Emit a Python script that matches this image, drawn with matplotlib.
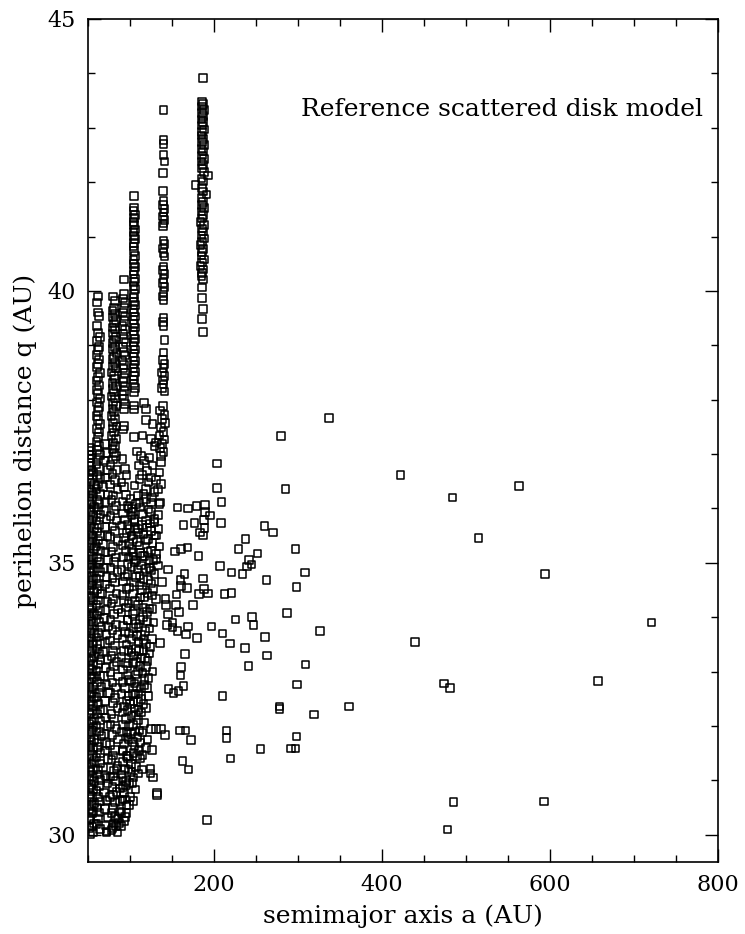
import matplotlib
matplotlib.use("Agg")
import matplotlib.pyplot as plt
from matplotlib.ticker import MultipleLocator

# dense strip at the inner edge of the disk (a ~ 50-57 AU)
band_q = [
    30.01, 30.04, 30.12, 30.15, 30.21, 30.28, 30.31, 30.39, 30.43, 30.47,
    30.55, 30.58, 30.66, 30.70, 30.74, 30.83, 30.86, 30.92, 30.99, 31.03,
    31.08, 31.16, 31.19, 31.25, 31.31, 31.36, 31.42, 31.47, 31.53, 31.60,
    31.63, 31.71, 31.74, 31.80, 31.88, 31.91, 31.97, 32.04, 32.08, 32.13,
    32.21, 32.24, 32.30, 32.37, 32.41, 32.46, 32.53, 32.58, 32.62, 32.70,
    32.73, 32.80, 32.86, 32.90, 32.96, 33.03, 33.07, 33.12, 33.20, 33.24,
    33.29, 33.36, 33.40, 33.47, 33.52, 33.57, 33.63, 33.69, 33.74, 33.79,
    33.86, 33.90, 33.97, 34.02, 34.07, 34.14, 34.18, 34.23, 34.31, 34.35,
    34.40, 34.47, 34.51, 34.58, 34.63, 34.68, 34.74, 34.81, 34.85, 34.91,
    34.97, 35.02, 35.08, 35.13, 35.19, 35.25, 35.30, 35.36, 35.41, 35.48,
    35.52, 35.59, 35.64, 35.69, 35.76, 35.80, 35.86, 35.93, 35.97, 36.03,
    36.09, 36.14, 36.20, 36.26, 36.31, 36.37, 36.43, 36.48, 36.54, 36.61,
    36.66, 36.71, 36.78, 36.84, 36.92, 36.98, 37.06, 37.12,
]
band_a = [
    53, 56, 52, 55, 57, 53, 51, 55, 56, 52,
    54, 57, 52, 55, 53, 56, 51, 54, 57, 52,
    55, 53, 56, 52, 54, 57, 51, 55, 53, 56,
    52, 54, 57, 53, 51, 55, 56, 52, 54, 57,
    53, 51, 55, 56, 52, 54, 57, 53, 55, 51,
    56, 52, 54, 57, 53, 55, 51, 56, 52, 54,
    57, 53, 55, 52, 56, 51, 54, 57, 53, 55,
    52, 56, 54, 51, 57, 53, 55, 52, 56, 54,
    51, 57, 53, 55, 52, 56, 54, 51, 57, 53,
    55, 52, 56, 54, 51, 57, 53, 55, 52, 56,
    54, 51, 57, 53, 55, 52, 56, 54, 51, 57,
    53, 55, 52, 56, 54, 51, 57, 53, 55, 52,
    56, 54, 51, 53, 52, 54, 51, 53,
]

# resonance column near a ~ 62 AU
colA_q = [
    39.90, 39.79, 39.60, 39.54, 39.35, 39.23, 39.15, 39.08, 38.97, 38.91,
    38.82, 38.74, 38.66, 38.60, 38.49, 38.42, 38.35, 38.26, 38.18, 38.11,
    38.02, 37.95, 37.86, 37.79, 37.70, 37.63, 37.55, 37.46, 37.40, 37.31,
    37.22, 37.15, 37.07, 36.98, 36.90, 36.81, 36.73, 36.62, 36.55, 36.44,
    36.36, 36.27, 36.16, 36.08, 35.97, 35.89, 35.78, 35.70, 35.58, 35.49,
    35.41, 35.30, 35.22, 35.10, 35.02, 34.91, 34.83, 34.71, 34.62, 34.52,
    34.43, 34.31, 34.22, 34.12, 34.03, 33.91, 33.82, 33.71, 33.63, 33.51,
    33.42, 33.32, 33.21, 33.13, 33.01, 32.92, 32.81, 32.72, 32.61, 32.53,
    32.41, 32.30, 32.22, 32.10, 32.01, 31.90, 31.82, 31.70, 31.61, 31.50,
    31.42, 31.31, 31.20, 31.11, 31.01, 30.90, 30.81, 30.70, 30.61, 30.50,
    30.41, 30.30, 30.20, 30.11,
]
colA_a = [
    62, 61, 62, 63, 61, 62, 64, 61, 63, 62,
    60, 63, 62, 61, 64, 62, 60, 63, 61, 62,
    64, 61, 63, 62, 60, 62, 64, 61, 63, 62,
    60, 63, 61, 64, 62, 60, 63, 61, 65, 62,
    60, 64, 61, 63, 62, 65, 60, 63, 61, 64,
    62, 60, 65, 61, 63, 62, 64, 60, 63, 61,
    65, 62, 60, 64, 61, 63, 66, 62, 60, 64,
    61, 63, 65, 62, 60, 64, 61, 66, 63, 60,
    62, 65, 61, 64, 60, 63, 66, 61, 62, 65,
    60, 64, 62, 61, 65, 63, 60, 62, 64, 61,
    63, 62, 60, 64,
]

# objects between the first two columns
fill_q = [
    37.18, 37.02, 36.88, 36.71, 36.57, 36.40, 36.26, 36.11, 35.95, 35.80,
    35.66, 35.49, 35.35, 35.19, 35.05, 34.90, 34.74, 34.60, 34.44, 34.29,
    34.13, 33.99, 33.83, 33.68, 33.53, 33.37, 33.22, 33.07, 32.92, 32.76,
    32.61, 32.46, 32.30, 32.16, 32.00, 31.85, 31.69, 31.55, 31.39, 31.24,
    31.08, 30.94, 30.78, 30.63, 30.47, 30.32, 30.17, 30.04,
]
fill_a = [
    70, 72, 69, 73, 71, 68, 74, 71, 69, 72,
    70, 73, 68, 71, 74, 69, 72, 70, 67, 73,
    71, 69, 74, 72, 70, 68, 73, 71, 69, 72,
    74, 70, 68, 71, 73, 69, 72, 70, 74, 68,
    71, 73, 69, 72, 70, 74, 71, 72,
]

# resonance column near a ~ 80 AU
colB_q = [
    39.90, 39.81, 39.69, 39.64, 39.58, 39.51, 39.47, 39.40, 39.33, 39.29,
    39.22, 39.15, 39.11, 39.04, 38.97, 38.93, 38.86, 38.79, 38.75, 38.68,
    38.61, 38.57, 38.50, 38.43, 38.38, 38.31, 38.25, 38.20, 38.13, 38.06,
    38.02, 37.95, 37.88, 37.83, 37.77, 37.70, 37.65, 37.58, 37.51, 37.47,
    37.40, 37.33, 37.28, 37.21, 37.15, 37.09, 37.02, 36.96, 36.90, 36.80,
    36.71, 36.63, 36.52, 36.44, 36.35, 36.24, 36.16, 36.05, 35.97, 35.86,
    35.78, 35.67, 35.59, 35.48, 35.40, 35.29, 35.21, 35.10, 35.02, 34.91,
    34.83, 34.72, 34.64, 34.53, 34.44, 34.34, 34.25, 34.14, 34.06, 33.95,
    33.87, 33.76, 33.67, 33.57, 33.48, 33.38, 33.29, 33.18, 33.10, 32.99,
    32.91, 32.80, 32.71, 32.61, 32.52, 32.42, 32.33, 32.22, 32.14, 32.03,
    31.95, 31.84, 31.75, 31.65, 31.56, 31.46, 31.37, 31.26, 31.18, 31.07,
    30.99, 30.88, 30.79, 30.69, 30.60, 30.49, 30.40, 30.29, 30.21, 30.12,
]
colB_a = [
    80, 82, 81, 79, 82, 80, 83, 81, 79, 82,
    80, 83, 81, 79, 82, 80, 84, 81, 79, 82,
    80, 83, 78, 81, 82, 79, 83, 80, 81, 78,
    82, 80, 83, 79, 81, 78, 82, 80, 84, 79,
    81, 78, 83, 80, 82, 79, 81, 83, 80, 77,
    84, 79, 82, 76, 85, 80, 78, 83, 81, 77,
    84, 79, 82, 76, 86, 80, 78, 83, 81, 77,
    85, 79, 82, 76, 84, 80, 78, 86, 81, 77,
    83, 79, 85, 76, 82, 80, 78, 84, 81, 77,
    86, 79, 83, 76, 82, 80, 85, 78, 81, 77,
    84, 79, 86, 76, 82, 80, 78, 85, 81, 77,
    83, 79, 84, 76, 82, 80, 78, 86, 81, 79,
]

# resonance column near a ~ 93 AU
colC_q = [
    40.21, 39.94, 39.86, 39.78, 39.69, 39.60, 39.53, 39.45, 39.36, 39.29,
    39.21, 39.12, 39.05, 38.97, 38.88, 38.81, 38.72, 38.64, 38.57, 38.49,
    38.40, 38.33, 38.24, 38.16, 38.09, 38.01, 37.92, 37.83, 37.52, 37.45,
    36.91, 36.72, 36.61, 36.48, 36.39, 36.25, 36.13, 36.04, 35.91, 35.80,
    35.69, 35.55, 35.46, 35.33, 35.22, 35.11, 34.98, 34.87, 34.75, 34.66,
    34.52, 34.41, 34.30, 34.18, 34.09, 33.95, 33.84, 33.73, 33.61, 33.50,
    33.38, 33.27, 33.16, 33.04, 32.93, 32.81, 32.70, 32.59, 32.47, 32.36,
    32.25, 32.13, 32.02, 31.90, 31.79, 31.68, 31.56, 31.45, 31.34, 31.22,
    31.11, 30.99, 30.88, 30.77, 30.65, 30.54, 30.43, 30.33, 30.16,
]
colC_a = [
    93, 93, 92, 94, 93, 92, 94, 93, 91, 94,
    92, 93, 95, 92, 93, 94, 91, 93, 92, 94,
    93, 92, 94, 93, 91, 93, 94, 93, 93, 92,
    91, 94, 96, 90, 93, 95, 91, 97, 92, 94,
    90, 96, 93, 91, 95, 92, 97, 90, 94, 92,
    96, 91, 93, 95, 90, 97, 92, 94, 91, 96,
    93, 90, 95, 92, 97, 91, 94, 90, 96, 93,
    91, 95, 92, 90, 97, 93, 91, 96, 92, 94,
    90, 95, 92, 93, 91, 96, 88, 94, 89,
]

# resonance column near a ~ 105 AU
colD_q = [
    41.74, 41.53, 41.47, 41.40, 41.34, 41.27, 41.21, 41.13, 41.08, 41.01,
    40.95, 40.88, 40.82, 40.73, 40.64, 40.57, 40.50, 40.44, 40.37, 40.30,
    40.22, 40.16, 40.09, 40.03, 39.94, 39.87, 39.80, 39.74, 39.67, 39.60,
    39.53, 39.47, 39.39, 39.33, 39.26, 39.19, 39.12, 39.06, 38.99, 38.92,
    38.85, 38.79, 38.71, 38.65, 38.58, 38.51, 38.44, 38.37, 38.30, 38.22,
    38.13, 37.89, 37.82, 37.31,
]
colD_a = [
    105, 105, 104, 106, 105, 104, 105, 106, 104, 105,
    106, 105, 104, 105, 106, 104, 105, 106, 105, 104,
    106, 105, 104, 106, 105, 104, 105, 106, 104, 105,
    106, 104, 105, 106, 104, 105, 106, 105, 104, 106,
    105, 104, 106, 105, 104, 106, 105, 104, 105, 106,
    105, 105, 105, 105,
]

# resonance column near a ~ 140 AU
colE_q = [
    43.33, 42.78, 42.70, 42.50, 42.38, 42.17, 41.84, 41.65, 41.58, 41.51,
    41.44, 41.37, 41.30, 41.24, 41.19, 40.93, 40.86, 40.78, 40.70, 40.63,
    40.45, 40.38, 40.31, 40.22, 40.15, 40.07, 39.98, 39.90, 39.82, 39.51,
    39.43, 39.35, 39.10, 38.87, 38.73, 38.66, 38.58, 38.50, 38.43, 38.35,
    38.28, 38.21, 38.15, 37.88, 37.80, 37.72, 37.65, 37.57, 37.49, 37.41,
    37.34, 37.27, 37.19, 37.11, 37.04, 36.96,
]
colE_a = [
    140, 140, 140, 140, 141, 139, 139, 140, 139, 141,
    140, 139, 141, 140, 139, 140, 141, 139, 140, 141,
    140, 139, 141, 140, 139, 141, 140, 139, 140, 140,
    139, 140, 141, 140, 139, 141, 140, 138, 141, 139,
    140, 138, 141, 139, 136, 141, 138, 142, 137, 140,
    135, 141, 138, 136, 140, 137,
]

# resonance column near a ~ 186 AU
colF_q = [
    43.91, 43.48, 43.44, 43.39, 43.33, 43.27, 43.22, 43.15, 43.10, 43.04,
    42.97, 42.92, 42.86, 42.79, 42.74, 42.68, 42.61, 42.56, 42.49, 42.43,
    42.38, 42.31, 42.25, 42.19, 42.12, 42.07, 42.01, 41.95, 41.89, 41.83,
    41.77, 41.71, 41.64, 41.58, 41.52, 41.46, 41.40, 41.33, 41.27, 41.21,
    41.15, 41.09, 41.02, 40.96, 40.90, 40.84, 40.77, 40.71, 40.65, 40.58,
    40.52, 40.46, 40.39, 40.33, 40.27, 40.21, 40.06, 39.87, 39.67, 39.48,
    39.24,
]
colF_a = [
    187, 186, 187, 186, 188, 186, 187, 185, 187, 186,
    188, 186, 185, 187, 186, 188, 185, 187, 186, 188,
    185, 187, 186, 188, 193, 185, 187, 178, 186, 187,
    191, 185, 187, 186, 188, 185, 187, 186, 184, 188,
    186, 187, 185, 188, 186, 184, 187, 186, 185, 188,
    186, 184, 187, 186, 185, 187, 186, 186, 187, 186,
    187,
]

# crowded region between 95 and 150 AU, (a, q)
cloud = [
    (116.5, 37.94), (119, 37.83), (119, 37.63), (127, 37.55), (115, 37.34),
    (125, 37.28), (131, 37.21), (129, 37.15), (113, 36.97), (117, 36.88),
    (110.6, 36.79), (123, 36.94), (127, 36.79), (120, 36.69), (135, 36.66),
    (137, 36.85), (125, 36.57), (111.4, 36.54), (137, 36.45), (105.5, 36.42),
    (119, 36.36), (129, 36.30), (109.4, 36.24), (100.8, 36.17), (119, 36.17),
    (136, 36.11), (107.5, 36.08), (101.6, 35.99), (125, 35.93), (115, 35.90),
    (101.6, 35.87), (129, 35.81), (105.5, 35.75), (120.4, 35.65), (99.6, 35.62),
    (109.4, 35.56), (129, 35.50), (103.5, 35.44), (119, 35.41), (111.4, 35.32),
    (101.6, 35.26), (125, 35.23), (115, 35.13), (107.5, 35.04), (131, 35.07),
    (101.6, 34.92), (119, 34.89), (111.4, 34.77), (129, 34.80),
    (103.5, 35.93), (111.4, 36.11), (125.2, 36.11), (135, 36.08), (105.5, 35.81),
    (119.3, 35.78), (129.1, 35.75), (109.4, 35.62), (125.2, 35.59), (101.6, 35.50),
    (121.5, 35.44), (131.1, 35.50), (103.5, 35.19), (117.3, 35.13), (131.1, 35.16),
    (123.2, 35.04), (105.5, 35.01), (113.4, 34.95), (125.2, 34.86), (107.5, 34.74),
    (121.3, 34.68), (111.4, 34.58), (127.1, 34.52), (103.5, 34.43), (117.3, 34.37),
    (131.1, 34.34), (109.4, 34.22), (123.2, 34.16), (103.5, 34.06), (115.3, 34.00),
    (107.5, 33.88), (123.2, 33.79), (113.4, 33.67), (101.6, 33.60), (119.3, 33.51),
    (107.5, 33.42), (123.2, 33.33), (113.4, 33.24), (103.5, 33.15), (119.3, 33.09),
    (109.4, 33.00), (117.3, 32.87), (105.5, 32.78), (113.4, 32.69), (103.5, 32.60),
    (114, 34.50), (126, 34.40), (106, 34.30), (120, 34.10), (112, 33.95),
    (128, 33.90), (104, 33.80), (118, 33.75), (110, 33.55), (126, 33.60),
    (116, 33.40), (105, 33.30), (121, 33.20), (112, 33.10), (127, 33.00),
    (107, 32.95), (117, 32.75), (110, 32.60), (122, 32.55), (104, 32.45),
    (98, 36.00), (97, 35.70), (99, 35.35), (98, 35.10), (97, 34.80),
    (99, 34.55), (98, 34.25), (97, 33.95), (99, 33.70), (98, 33.40),
    (97, 33.10), (99, 32.85), (98, 32.55), (97, 32.30), (99, 32.00),
    (98, 31.75), (97, 31.45), (98, 31.20), (99, 30.95), (98.8, 30.55),
    (109.4, 32.11), (111.4, 31.92), (103.5, 31.71), (105.5, 31.62), (97.6, 31.40),
    (109.4, 32.44), (105.5, 32.32), (107.5, 32.20), (103.5, 32.02), (95.7, 31.89),
    (119.3, 32.33), (125.2, 31.95), (131.1, 31.95), (137, 31.95), (126, 31.56),
    (115, 31.47), (124.4, 31.22), (109.4, 31.13), (124.4, 31.13), (127.6, 31.05),
    (106.7, 30.83), (132.3, 30.73), (132, 30.77), (84, 31.22), (80, 31.07),
    (72, 31.04), (87.8, 30.85), (80, 30.73), (82, 30.33), (72, 30.06),
    (78, 30.09), (83, 30.16), (91, 31.04), (91.7, 31.53), (101, 31.30),
    (104, 31.05), (112, 31.70), (108, 31.45), (113, 32.25), (100, 32.40),
    (117, 32.05), (121, 31.75), (106, 31.90), (114, 31.20), (103, 30.95),
    (100, 30.70), (96, 30.40), (93, 30.25),
    (108, 37.05), (114, 36.62), (122, 36.48), (131, 36.52), (116, 36.27),
    (126, 36.20), (133, 36.35), (112, 36.02), (122, 35.98), (133, 35.88),
    (106, 35.64), (114, 35.70), (124, 35.72), (134, 35.62), (108, 35.38),
    (116, 35.52), (127, 35.36), (135, 35.30), (104, 35.12), (112, 35.18),
    (121, 35.20), (128, 35.05), (109, 34.88), (123, 34.90), (133, 34.95),
    (105, 34.64), (116, 34.70), (125, 34.62), (112, 34.36), (121, 34.45),
    (106, 34.12), (116, 34.18), (127, 34.15), (110, 33.82), (120, 33.92),
    (108, 33.65), (116, 33.58), (124, 33.45), (102, 33.35), (111, 33.38),
    (118, 33.25), (107, 33.18), (115, 32.98), (122, 32.88), (101, 32.82),
    (108, 32.72), (120, 32.70), (113, 32.50), (106, 32.58), (102, 32.18),
    (110, 32.30), (116, 32.40), (101, 31.85), (109, 31.80), (115, 31.88),
    (104, 31.50), (111, 31.55), (119, 31.60), (102, 31.15), (107, 31.25),
    (112, 31.40), (94, 30.65), (104, 30.62), (90, 30.40), (87, 30.22),
    (85, 30.04), (95, 30.92), (88, 30.62),
]

# sparse population beyond ~140 AU, (a, q)
scatter = [
    (156.7, 36.02), (169, 36.00), (179, 36.05), (189, 36.06), (189, 35.94),
    (209, 36.12), (195.6, 35.87), (163.8, 35.70), (177, 35.73), (188, 35.79),
    (188.5, 35.64), (183, 35.56), (187, 35.50), (208, 35.73), (260, 35.68),
    (270, 35.56), (237.4, 35.44), (229, 35.25), (252, 35.17), (153.6, 35.21),
    (161, 35.26), (168.5, 35.28), (181.5, 35.13), (242, 35.05), (239, 34.93),
    (244.5, 34.97), (207, 34.94), (145, 34.88), (221, 34.82), (234, 34.79),
    (262.6, 34.69), (165, 34.79), (160, 34.68), (187, 34.71), (138, 34.65),
    (160.6, 34.57), (167.7, 34.54), (188, 34.52), (182, 34.43), (193, 34.44),
    (212.6, 34.43), (221, 34.45), (155.5, 34.42), (142.5, 34.34), (143, 34.23),
    (154.7, 34.23), (175, 34.22), (145, 34.05), (158.7, 34.10), (143.7, 33.86),
    (150.7, 33.90), (169, 33.83), (197, 33.83), (225.6, 33.96), (245, 34.00),
    (247, 33.86), (150.7, 33.81), (156.7, 33.75), (167, 33.68), (180, 33.62),
    (210, 33.70), (219, 33.52), (236.6, 33.43), (261, 33.64), (136, 33.53),
    (165.4, 33.32), (263, 33.30), (241, 33.10), (160.6, 33.09), (160, 32.93),
    (163.7, 32.74), (146, 32.68), (151.6, 32.61), (157.8, 32.64), (210, 32.55),
    (142, 31.83), (159.5, 31.92), (166, 31.92), (172.5, 31.74), (215, 31.92),
    (215, 31.78), (255.5, 31.58), (162.6, 31.36), (219.7, 31.40), (169.7, 31.20),
    (192, 30.27), (203.5, 36.83), (203.5, 36.38), (280, 37.33), (285, 36.36),
    (297, 35.26), (308, 34.82), (298, 34.56), (287, 34.08), (326, 33.75),
    (309, 33.13), (299, 32.76), (278, 32.36), (278, 32.31), (319, 32.21),
    (298, 31.81), (292, 31.59), (297, 31.59), (337, 37.66), (422, 36.61),
    (484, 36.20), (563, 36.41), (515, 35.46), (594, 34.80), (721, 33.90),
    (439, 33.55), (474, 32.78), (481, 32.70), (657, 32.83), (361, 32.36),
    (485, 30.60), (478, 30.10), (593, 30.61),
]

plt.rcParams['font.family'] = 'DejaVu Serif'

fig = plt.figure(figsize=(7.45, 9.34), dpi=100)
ax = fig.add_axes([0.1181, 0.0771, 0.8457, 0.9026])

marker_kw = dict(marker='s', s=30, facecolors='none', edgecolors='black', linewidths=1.1)

columns = [
    (band_a, band_q), (colA_a, colA_q), (fill_a, fill_q), (colB_a, colB_q),
    (colC_a, colC_q), (colD_a, colD_q), (colE_a, colE_q), (colF_a, colF_q),
]
for a, q in columns:
    ax.scatter(a, q, **marker_kw)
for pts in (cloud, scatter):
    ax.scatter([p[0] for p in pts], [p[1] for p in pts], **marker_kw)

ax.set_xlim(50, 800)
ax.set_ylim(29.5, 45)
ax.xaxis.set_major_locator(MultipleLocator(200))
ax.xaxis.set_minor_locator(MultipleLocator(50))
ax.yaxis.set_major_locator(MultipleLocator(5))
ax.yaxis.set_minor_locator(MultipleLocator(1))
ax.tick_params(which='both', direction='in', top=True, right=True,
               width=1.0, labelsize=16, colors='black')
ax.tick_params(which='major', length=9.5, pad=9)
ax.tick_params(which='minor', length=5)
for sp in ax.spines.values():
    sp.set_linewidth(1.2)

ax.set_xlabel('semimajor axis a (AU)', fontsize=18, labelpad=6)
ax.set_ylabel('perihelion distance q (AU)', fontsize=18, labelpad=7)
ax.text(0.976, 0.893, 'Reference scattered disk model', transform=ax.transAxes,
        ha='right', va='center', fontsize=18)

fig.savefig('out.png', dpi=100)
